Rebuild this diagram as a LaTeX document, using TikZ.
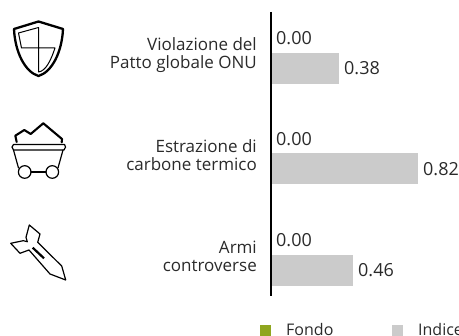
\documentclass[tikz,border=0pt]{standalone}
\usepackage{fontspec}
\setmainfont{Open Sans}
\definecolor{barg}{HTML}{CBCBCB}
\definecolor{fondog}{HTML}{8FA61F}
\definecolor{txt}{HTML}{2A2A2A}
\tikzset{
 lab/.style={anchor=base east,inner sep=0pt,text=txt,font=\fontsize{17}{17}\selectfont},
 val/.style={anchor=base west,inner sep=0pt,text=txt,font=\fontsize{18}{18}\selectfont},
 leg/.style={anchor=base west,inner sep=0pt,text=txt,font=\fontsize{16}{16}\selectfont},
 barbox/.style={fill=barg,draw=none},
 icon/.style={draw=black,line join=round,line cap=round},
}
\begin{document}
\begin{tikzpicture}[x=1pt,y=-1pt]
\useasboundingbox (0,0) rectangle (459,336);
\clip (0,0) rectangle (459,336);
% bars
\fill[barbox] (272,53) rectangle (339,84);
\fill[barbox] (272,153) rectangle (418,184);
\fill[barbox] (272,255) rectangle (353,286);
\draw[line width=2pt] (271,12) -- (271,296);
% labels
\node[lab] (l1a) at (257,51) {Violazione del};
\node[lab] (l1b) at (257,69) {Patto globale ONU};
\node[lab] (l2a) at (257,153) {Estrazione di};
\node[lab] (l2b) at (257,171) {carbone termico};
\node[lab] (l3a) at (257,254) {Armi};
\node[lab] (l3b) at (257,272) {controverse};
\node[val] (v1a) at (276,45) {0.00};
\node[val] (v1b) at (344,75) {0.38};
\node[val] (v2a) at (276,146) {0.00};
\node[val] (v2b) at (423,176) {0.82};
\node[val] (v3a) at (276,247) {0.00};
\node[val] (v3b) at (358,277) {0.46};
% legend
\fill[fondog] (260,325) rectangle (271,336);
\fill[barg] (392,325) rectangle (403,336);
\node[leg] (lf) at (286,336) {Fondo};
\node[leg] (li) at (418,336) {Indice};
% shield
\draw[icon,line width=2.3pt] (38.5,21.5) -- (14,29) .. controls (15,52) and (25,72) .. (38.5,76) .. controls (52,72) and (62,52) .. (63,29) -- cycle;
\draw[icon,line width=1pt] (38.5,27.5) -- (18.5,33) -- (21.5,48) -- (55,48) .. controls (51,60) and (46,71) .. (38.5,72) -- cycle;
% cart
\draw[icon,line width=2.1pt] (16.7,142) -- (15.3,135.7) -- (24.3,130) -- (30.7,134) -- (43.3,123.3) -- (62,139) -- (61.7,142.3);
\draw[icon,line width=1.2pt] (13.5,144.5) -- (64.5,144.5) .. controls (66,146) and (66,148) .. (64,150) -- (13.5,150) .. controls (11.5,148) and (11.5,146) .. (13.5,144.5);
\draw[icon,line width=1.2pt] (13.5,150) -- (18.5,168);
\draw[icon,line width=1.2pt] (63,150) -- (58,168);
\draw[icon,line width=1.2pt] (24.7,172) circle[radius=6.3];
\draw[icon,line width=1.2pt] (52.3,172) circle[radius=6.3];
\draw[icon,line width=1.2pt] (31,172) -- (46,172);
% missile
\draw[icon,line width=1.2pt] (65.7,280) -- (61.7,266) -- (37.7,242.3) -- (40,234) -- (29.3,225) -- (26,237.3) -- (27.3,241.7) -- (23.3,240.7) -- (10.7,243.3) -- (20,253.3) -- (29,250) -- (50,274) -- cycle;
\draw[icon,line width=2.2pt,line cap=butt] (32.7,247.7) -- (44,258.3);
\end{tikzpicture}
\end{document}
